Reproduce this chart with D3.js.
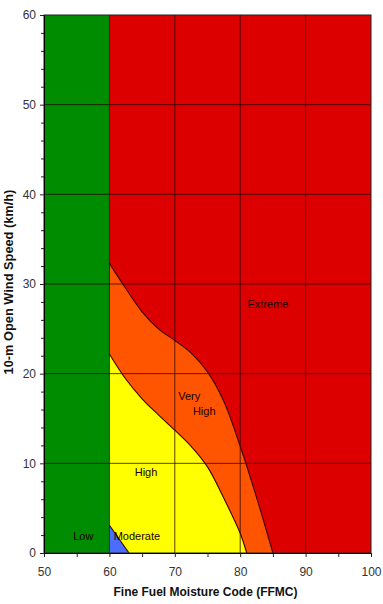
<!DOCTYPE html>
<html>
<head>
<meta charset="utf-8">
<script src="https://cdn.jsdelivr.net/npm/d3@7"></script>
<style>
  html, body { margin: 0; padding: 0; background: #fff; }
  svg { display: block; font-family: "Liberation Sans", Arial, sans-serif; }
</style>
</head>
<body>
<svg id="chart" width="383" height="604"></svg>
<script>
// ---- data ----
const xDomain = [50, 100];
const yDomain = [0, 60];
const xTicks = [50, 60, 70, 80, 90, 100];
const yTicks = [0, 10, 20, 30, 40, 50, 60];
const xMinorTicks = [55, 65, 75, 85, 95];
const yMinorTicks = [2, 4, 6, 8, 12, 14, 16, 18, 22, 24, 26, 28, 32, 34, 36, 38, 42, 44, 46, 48, 52, 54, 56, 58];

// FFMC below 60 -> Low, above -> rated by wind
const lowZone = [50, 60];
const upperZone = [60, 100];

// boundary curves [FFMC, wind km/h]
const extremeBoundary = [[60, 32.3], [62.5, 29.5], [65, 26.9], [67.5, 25.0], [70, 23.7], [72.5, 22.3], [75, 20.2], [77.5, 16.9], [80, 11.9], [82.5, 6.2], [85, 0]];
const highBoundary = [[60, 22.2], [62.5, 19.4], [65, 17.2], [67.5, 15.4], [70, 13.7], [72.5, 11.9], [75, 9.6], [77.5, 6.1], [80, 2.2], [81, 0]];
const moderateBoundary = [[60, 3.1], [63, 0]];

const labels = [
  { text: "Extreme", x: 84.25, y: 27.3 },
  { text: "Very", x: 72.2, y: 17.06 },
  { text: "High", x: 74.5, y: 15.4 },
  { text: "High", x: 65.6, y: 8.6 },
  { text: "Low", x: 56.0, y: 1.45 },
  { text: "Moderate", x: 64.2, y: 1.45 }
];

const xTitle = "Fine Fuel Moisture Code (FFMC)";
const yTitle = "10-m Open Wind Speed (km/h)";

// ---- layout ----
const margin = { left: 44, top: 15, right: 12, bottom: 51 };
const W = 383, H = 604;
const iw = W - margin.left - margin.right;
const ih = H - margin.top - margin.bottom;

const colors = { low: "#008c00", extreme: "#dc0000", veryHigh: "#ff5500", high: "#ffff00", moderate: "#4a6cff" };

const svg = d3.select("#chart");
const g = svg.append("g").attr("transform", `translate(${margin.left},${margin.top})`);

const x = d3.scaleLinear().domain(xDomain).range([0, iw]);
const y = d3.scaleLinear().domain(yDomain).range([ih, 0]);

// zones
g.append("rect").attr("x", x(lowZone[0])).attr("y", y(yDomain[1]))
  .attr("width", x(lowZone[1]) - x(lowZone[0])).attr("height", y(yDomain[0]) - y(yDomain[1]))
  .attr("fill", colors.low);
g.append("rect").attr("x", x(upperZone[0])).attr("y", y(yDomain[1]))
  .attr("width", x(upperZone[1]) - x(upperZone[0])).attr("height", y(yDomain[0]) - y(yDomain[1]))
  .attr("fill", colors.extreme);

const curve = d3.curveCatmullRom.alpha(0.5);
const area = d3.area().x(d => x(d[0])).y0(y(0)).y1(d => y(d[1])).curve(curve);
const line = d3.line().x(d => x(d[0])).y(d => y(d[1])).curve(curve);

g.append("path").datum(extremeBoundary).attr("d", area).attr("fill", colors.veryHigh);
g.append("path").datum(highBoundary).attr("d", area).attr("fill", colors.high);
g.append("path").datum(moderateBoundary).attr("d", area).attr("fill", colors.moderate);

// gridlines
const gridColor = "rgba(40,0,0,0.75)";
g.append("g").selectAll("line").data(xTicks.slice(1, -1)).join("line")
  .attr("x1", d => x(d)).attr("x2", d => x(d)).attr("y1", 0).attr("y2", ih)
  .attr("stroke", gridColor).attr("stroke-width", 1);
g.append("g").selectAll("line").data(yTicks.slice(1, -1)).join("line")
  .attr("x1", 0).attr("x2", iw).attr("y1", d => y(d)).attr("y2", d => y(d))
  .attr("stroke", gridColor).attr("stroke-width", 1);

// boundary lines
[extremeBoundary, highBoundary, moderateBoundary].forEach(b => {
  g.append("path").datum(b).attr("d", line).attr("fill", "none")
    .attr("stroke", "#3a0000").attr("stroke-width", 1.1);
});

// plot frame (top/right)
g.append("rect").attr("x", 0).attr("y", 0).attr("width", iw).attr("height", ih)
  .attr("fill", "none").attr("stroke", "#222").attr("stroke-width", 1);

// labels
g.append("g").selectAll("text").data(labels).join("text")
  .attr("x", d => x(d.x)).attr("y", d => y(d.y))
  .attr("text-anchor", "middle").attr("font-size", 11).attr("fill", "#1a0000")
  .text(d => d.text);

// axes
g.append("g").attr("transform", `translate(0,${ih})`)
  .call(d3.axisBottom(x).tickValues(xTicks).tickSize(4).tickPadding(10).tickSizeOuter(0));
g.append("g").attr("transform", `translate(0,${ih})`)
  .call(d3.axisBottom(x).tickValues(xMinorTicks).tickSize(4).tickFormat("").tickSizeOuter(0))
  .select(".domain").remove();
g.append("g")
  .call(d3.axisLeft(y).tickValues(yTicks).tickSize(4).tickPadding(4).tickSizeOuter(0));
g.append("g")
  .call(d3.axisLeft(y).tickValues(yMinorTicks).tickSize(3).tickFormat("").tickSizeOuter(0))
  .select(".domain").remove();

svg.selectAll(".tick text").attr("font-size", 12).attr("fill", "#333")
  .attr("font-family", "'Liberation Sans', Arial, sans-serif");
svg.selectAll(".domain").attr("stroke", "#000");
svg.selectAll(".tick line").attr("stroke", "#222");

// titles
svg.append("text").attr("x", margin.left + iw / 2 - 2).attr("y", 596)
  .attr("text-anchor", "middle").attr("font-size", 12).attr("font-weight", "bold")
  .attr("fill", "#111").text(xTitle);
svg.append("text").attr("transform", `translate(13,282) rotate(-90)`)
  .attr("text-anchor", "middle").attr("font-size", 12.8).attr("font-weight", "bold")
  .attr("fill", "#111").text(yTitle);
</script>
</body>
</html>
